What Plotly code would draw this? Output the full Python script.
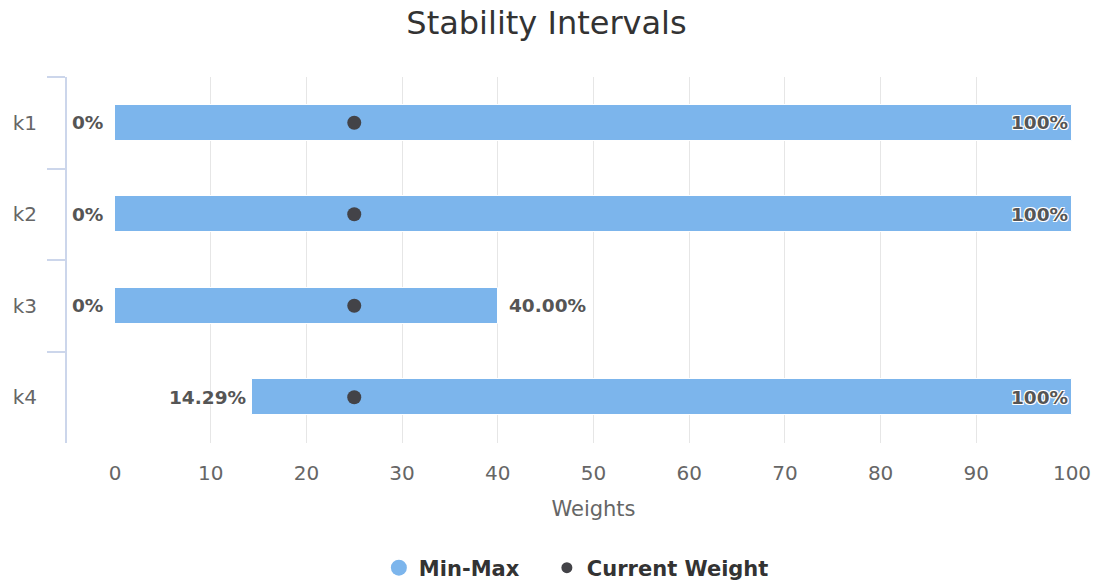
import plotly.graph_objects as go

categories = ["k1", "k2", "k3", "k4"]
low_values = [0, 0, 0, 14.29]
high_values = [100, 100, 40, 100]
current_weights = [25, 25, 25, 25]
low_labels = ["0%", "0%", "0%", "14.29%"]
high_labels = ["100%", "100%", "40.00%", "100%"]
x_ticks = [0, 10, 20, 30, 40, 50, 60, 70, 80, 90, 100]

FONT = "DejaVu Sans"
BAR_COLOR = "#7cb5ec"
DOT_COLOR = "#434348"
OUTLINE = "1px 1px 0 #fff, -1px -1px 0 #fff, 1px -1px 0 #fff, -1px 1px 0 #fff"

fig = go.Figure()

fig.add_trace(go.Bar(
    y=categories,
    x=[h - l for h, l in zip(high_values, low_values)],
    base=low_values,
    orientation="h",
    width=0.39,
    marker=dict(color=BAR_COLOR, line=dict(color="#ffffff", width=1)),
    name="Min-Max",
    showlegend=False,
    hoverinfo="skip",
))

fig.add_trace(go.Scatter(
    y=categories,
    x=current_weights,
    mode="markers",
    marker=dict(color=DOT_COLOR, size=14),
    name="Current Weight",
    showlegend=False,
))

# legend-only entries (circle symbols as in the reference)
fig.add_trace(go.Scatter(x=[None], y=[None], mode="markers", legend="legend",
                         marker=dict(color=BAR_COLOR, size=20), name="Min-Max"))
fig.add_trace(go.Scatter(x=[None], y=[None], mode="markers", legend="legend2",
                         marker=dict(color=DOT_COLOR, size=11), name="Current Weight"))

annotations = []
xmax = max(x_ticks)
for cat, lo, hi, lt, ht in zip(categories, low_values, high_values, low_labels, high_labels):
    annotations.append(dict(
        x=lo, y=cat, text=lt, showarrow=False, xanchor="right",
        xshift=-10 if lo == 0 else -4,
        font=dict(family=FONT, size=18.5, color="#555555", weight="bold"),
    ))
    inside = hi >= xmax
    annotations.append(dict(
        x=hi, y=cat, text=ht, showarrow=False,
        xanchor="right" if inside else "left",
        xshift=-2 if inside else 9,
        font=dict(family=FONT, size=18.5, color="#555555", weight="bold",
                  shadow=OUTLINE if inside else "none"),
    ))

legend_common = dict(orientation="h", xanchor="left", y=-0.3415, yanchor="middle",
                     font=dict(family=FONT, size=21, color="#333333", weight="bold"),
                     itemsizing="trace", bgcolor="rgba(0,0,0,0)")

fig.update_layout(
    width=1093, height=581,
    margin=dict(l=66, r=21, t=77, b=138, autoexpand=False),
    paper_bgcolor="#ffffff", plot_bgcolor="#ffffff",
    title=dict(text="Stability Intervals", x=0.5, xanchor="center",
               y=0.961, yanchor="middle",
               font=dict(family=FONT, size=32, color="#333333")),
    font=dict(family=FONT),
    annotations=annotations,
    bargap=0,
    legend=dict(x=0.311, **legend_common),
    legend2=dict(x=0.478, **legend_common),
    xaxis=dict(
        domain=[0.0487, 1], range=[0, 100], tickvals=x_ticks,
        showgrid=True, gridcolor="#e6e6e6",
        gridwidth=1, zeroline=False, showline=False, ticks="", automargin=False,
        tickfont=dict(family=FONT, size=20, color="#666666"),
        ticklabelstandoff=16,
        title=dict(text="Weights", standoff=17,
                   font=dict(family=FONT, size=21, color="#666666")),
    ),
    yaxis=dict(
        type="category", categoryorder="array", categoryarray=categories,
        range=[3.5, -0.5], tickson="boundaries", ticks="outside", ticklen=18,
        tickwidth=2, anchor="free", position=0,
        tickcolor="#ccd6eb", showline=True, linecolor="#ccd6eb", linewidth=2,
        showgrid=False, zeroline=False, automargin=False,
        tickfont=dict(family=FONT, size=20, color="#666666"),
        ticklabelstandoff=24,
    ),
)

fig.write_html("out.html", config={"displayModeBar": False},
               post_script="document.body.style.margin='0';")
